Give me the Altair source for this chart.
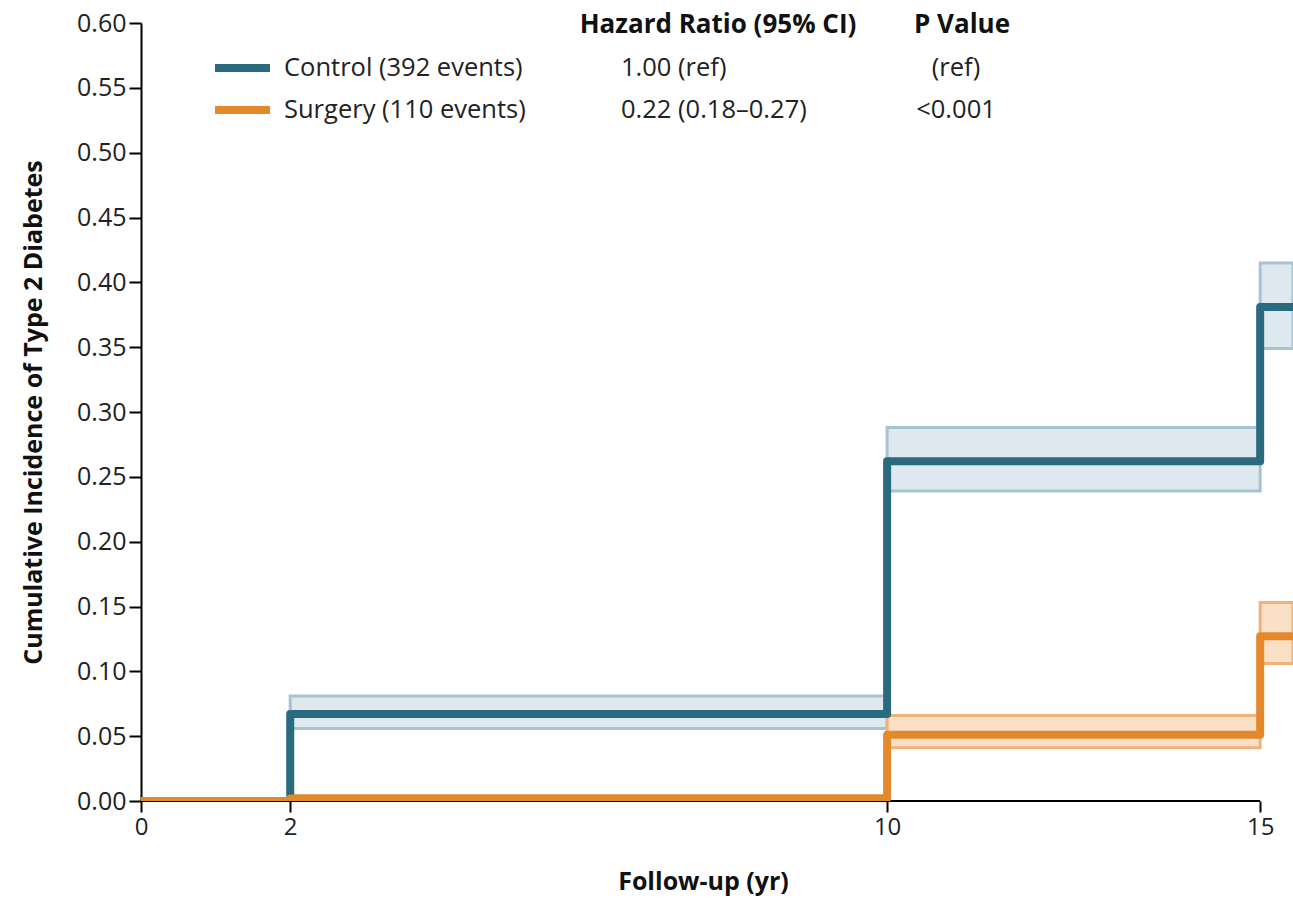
import altair as alt
import pandas as pd

# ---- data ----
times = [0, 2, 10, 15]
end_time = 15.44
control_est = [0.0, 0.067, 0.262, 0.381]
control_lo = [0.0, 0.056, 0.239, 0.349]
control_hi = [0.0, 0.081, 0.288, 0.415]
surgery_est = [0.0, 0.002, 0.051, 0.127]
surgery_lo = [0.0, 0.001, 0.041, 0.106]
surgery_hi = [0.0, 0.004, 0.066, 0.153]
groups = ["Control", "Surgery"]
legend_labels = ["Control (392 events)", "Surgery (110 events)"]
hr_labels = ["1.00 (ref)", "0.22 (0.18\u20130.27)"]
p_labels = ["(ref)", "<0.001"]
headers = ["Hazard Ratio (95% CI)", "P Value"]
x_ticks = [0, 2, 10, 15]
y_ticks = [round(i * 0.05, 2) for i in range(13)]

line_col = {"Control": "#2a6a7f", "Surgery": "#e3882b"}
band_fill = {"Control": "#dde8ef", "Surgery": "#f8dfc6"}
band_stroke = {"Control": "#a8c3d2", "Surgery": "#efb27a"}

FONT = "Open Sans"
W, H = 1152, 778
TXT = 25.5

# ---- build tables ----
line_rows, band_rows = [], []
for g, est, lo, hi in [("Control", control_est, control_lo, control_hi),
                       ("Surgery", surgery_est, surgery_lo, surgery_hi)]:
    for i, t in enumerate(times):
        line_rows.append({"group": g, "t": t, "est": est[i]})
        if i > 0:
            t_end = times[i + 1] if i + 1 < len(times) else end_time
            band_rows.append({"group": g, "t0": t, "t1": t_end, "lo": lo[i], "hi": hi[i]})
    line_rows.append({"group": g, "t": end_time, "est": est[-1]})
lines = pd.DataFrame(line_rows)
bands = pd.DataFrame(band_rows)

xs = alt.Scale(domain=[0, end_time], nice=False, zero=False)
ys = alt.Scale(domain=[0, 0.6], nice=False)

x_axis = alt.Axis(values=x_ticks, title="Follow-up (yr)", domain=False, grid=False,
                  tickColor="black", tickWidth=2, tickSize=11, labelPadding=3,
                  labelFlush=False,
                  labelFont=FONT, labelFontSize=24, labelColor="#222",
                  titleFont=FONT, titleFontSize=25, titleFontWeight="bold",
                  titlePadding=30, titleColor="#111", titleX=562, format="d")
y_axis = alt.Axis(values=y_ticks, title="Cumulative Incidence of Type 2 Diabetes",
                  format=".2f", grid=False, domainColor="black", domainWidth=2,
                  tickColor="black", tickWidth=2, tickSize=12, labelPadding=3,
                  labelFont=FONT, labelFontSize=25, labelColor="#222",
                  titleFont=FONT, titleFontSize=25, titleFontWeight="bold",
                  titlePadding=30, titleColor="#111")

# x domain line only from 0 to 15
xline = alt.Chart(pd.DataFrame({"a": [x_ticks[0]], "b": [x_ticks[-1]],
                                "z": [0.0]})).mark_rule(
    color="black", strokeWidth=2).encode(
    x=alt.X("a:Q", scale=xs, axis=x_axis), x2="b:Q",
    y=alt.Y("z:Q", scale=ys, axis=y_axis))

band_layers = []
for g in groups:
    band_layers.append(
        alt.Chart(bands[bands.group == g]).mark_rect(
            fill=band_fill[g], stroke=band_stroke[g], strokeWidth=3, clip=True).encode(
            x=alt.X("t0:Q", scale=xs, axis=x_axis), x2="t1:Q",
            y=alt.Y("lo:Q", scale=ys, axis=y_axis), y2="hi:Q"))

line_layers = []
for g in groups:
    line_layers.append(
        alt.Chart(lines[lines.group == g]).mark_line(
            interpolate="step-after", color=line_col[g], strokeWidth=8,
            strokeJoin="round", clip=True).encode(
            x=alt.X("t:Q", scale=xs, axis=x_axis),
            y=alt.Y("est:Q", scale=ys, axis=y_axis)))

# legend / table annotation (pixel-placed, no scales)
row_px = [45, 87]
ann = []
for i, g in enumerate(groups):
    row = pd.DataFrame({"label": [legend_labels[i]], "hr": [hr_labels[i]], "p": [p_labels[i]]})
    ann.append(alt.Chart(row).mark_rule(strokeWidth=8, color=line_col[g]).encode(
        x=alt.value(74), x2=alt.value(129), y=alt.value(row_px[i])))
    ann.append(alt.Chart(row).mark_text(align="left", baseline="middle", font=FONT,
                                        fontSize=TXT, color="#222").encode(
        x=alt.value(143), y=alt.value(row_px[i]), text="label:N"))
    ann.append(alt.Chart(row).mark_text(align="left", baseline="middle", font=FONT,
                                        fontSize=TXT, color="#222").encode(
        x=alt.value(480), y=alt.value(row_px[i]), text="hr:N"))
    ann.append(alt.Chart(row).mark_text(align="center", baseline="middle", font=FONT,
                                        fontSize=TXT, color="#222").encode(
        x=alt.value(815), y=alt.value(row_px[i]), text="p:N"))
hdr_px = [577, 821]
for j, h in enumerate(headers):
    ann.append(alt.Chart(pd.DataFrame({"h": [h]})).mark_text(
        align="center", baseline="middle", font=FONT, fontSize=26,
        fontWeight="bold", color="#111").encode(
        x=alt.value(hdr_px[j]), y=alt.value(2), text="h:N"))

chart = alt.layer(xline, *band_layers, *line_layers, *ann).properties(
    width=W, height=H,
    padding={"left": 141, "top": 23, "right": 0, "bottom": 99},
    autosize=alt.AutoSizeParams(type="none"),
    background="white",
).configure_view(stroke=None)

chart.save("out.html", embed_options={"renderer": "svg", "actions": False})
